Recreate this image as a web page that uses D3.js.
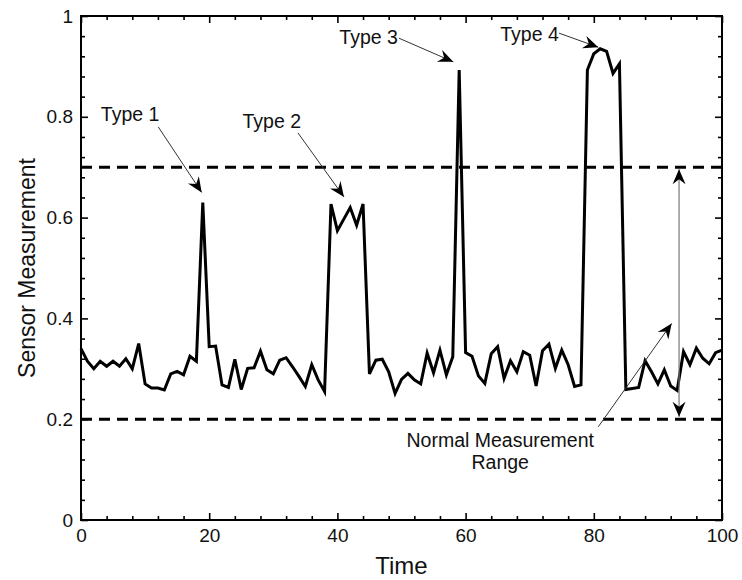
<!DOCTYPE html>
<html>
<head>
<meta charset="utf-8">
<script src="https://cdn.jsdelivr.net/npm/d3@7"></script>
<style>
  html, body { margin: 0; padding: 0; background: #fff; }
  svg { display: block; }
  text { font-family: "Liberation Sans", Arial, Helvetica, sans-serif; fill: #111; }
</style>
</head>
<body>
<svg id="chart" width="742" height="580"></svg>
<script>
// ---- data ----
const times = d3.range(0, 101);
const sensorValues = [
  0.340, 0.315, 0.300, 0.315, 0.305, 0.315, 0.305, 0.320, 0.300, 0.350,
  0.270, 0.262, 0.262, 0.258, 0.290, 0.295, 0.288, 0.325, 0.315, 0.630,
  0.344, 0.345, 0.268, 0.263, 0.319, 0.259, 0.301, 0.302, 0.335, 0.298,
  0.290, 0.317, 0.322, 0.304, 0.285, 0.265, 0.308, 0.278, 0.255, 0.627,
  0.574, 0.597, 0.620, 0.585, 0.627, 0.290, 0.317, 0.319, 0.294, 0.251,
  0.279, 0.291, 0.278, 0.270, 0.331, 0.292, 0.337, 0.288, 0.324, 0.893,
  0.332, 0.325, 0.286, 0.271, 0.330, 0.344, 0.281, 0.316, 0.294, 0.334,
  0.327, 0.266, 0.336, 0.349, 0.301, 0.337, 0.308, 0.265, 0.268, 0.893,
  0.925, 0.935, 0.930, 0.886, 0.905, 0.259, 0.261, 0.263, 0.316, 0.294,
  0.270, 0.298, 0.266, 0.257, 0.334, 0.308, 0.341, 0.321, 0.310, 0.332,
  0.337
];
const xTicks = [0, 20, 40, 60, 80, 100];
const yTicks = [0, 0.2, 0.4, 0.6, 0.8, 1];
const xTickLabels = ["0", "20", "40", "60", "80", "100"];
const yTickLabels = ["0", "0.2", "0.4", "0.6", "0.8", "1"];
const thresholds = [0.7, 0.2];
// annotation labels and arrows (data coordinates)
const typeLabels = ["Type 1", "Type 2", "Type 3", "Type 4"];
const typeLabelPos = [[3.1, 0.792], [25.2, 0.777], [40.3, 0.944], [65.4, 0.950]];
const typeArrowFrom = [[12.05, 0.780], [33.85, 0.768], [49.6, 0.956], [74.57, 0.966]];
const typeArrowTo = [[18.83, 0.650], [41.03, 0.641], [58.08, 0.909], [80.7, 0.938]];
const rangeLabelLines = ["Normal Measurement", "Range"];
const rangeLabelPos = [65.4, 0.145];
const rangeArrowFrom = [80.7, 0.185];
const rangeArrowTo = [92.15, 0.390];
const rangeSpanX = 93.3;
const rangeSpan = [0.696, 0.205];

// ---- layout ----
const W = 742, H = 580;
const margin = { left: 81, right: 20, top: 16, bottom: 60 };
const svg = d3.select("#chart");
const iw = W - margin.left - margin.right;
const ih = H - margin.top - margin.bottom;
const g = svg.append("g").attr("transform", `translate(${margin.left},${margin.top})`);

const x = d3.scaleLinear().domain([0, 100]).range([0, iw]);
const y = d3.scaleLinear().domain([0, 1]).range([ih, 0]);

// minor ticks
const xMinor = d3.range(0, 101, 4).filter(v => !xTicks.includes(v));
const yMinor = d3.range(0, 1.0001, 0.04).map(v => +v.toFixed(2)).filter(v => !yTicks.some(t => Math.abs(t - v) < 1e-6));

function styleAxis(sel) {
  sel.select(".domain").remove();
  sel.selectAll("line").attr("stroke", "#000").attr("stroke-width", 1.6);
  sel.selectAll("text").style("font-size", "19px").attr("fill", "#111");
}

// major ticks, inward
g.append("g").attr("transform", `translate(0,${ih})`)
  .call(d3.axisBottom(x).tickValues(xTicks).tickFormat((d, i) => xTickLabels[i]).tickSizeInner(-7).tickSizeOuter(0).tickPadding(9))
  .call(styleAxis);
g.append("g")
  .call(d3.axisLeft(y).tickValues(yTicks).tickFormat((d, i) => yTickLabels[i]).tickSizeInner(-7).tickSizeOuter(0).tickPadding(8))
  .call(styleAxis);
g.append("g")
  .call(d3.axisTop(x).tickValues(xTicks).tickFormat("").tickSizeInner(-7).tickSizeOuter(0))
  .call(styleAxis);
g.append("g").attr("transform", `translate(${iw},0)`)
  .call(d3.axisRight(y).tickValues(yTicks).tickFormat("").tickSizeInner(-7).tickSizeOuter(0))
  .call(styleAxis);
// minor ticks
g.append("g").attr("transform", `translate(0,${ih})`)
  .call(d3.axisBottom(x).tickValues(xMinor).tickFormat("").tickSizeInner(-4).tickSizeOuter(0)).call(styleAxis);
g.append("g")
  .call(d3.axisTop(x).tickValues(xMinor).tickFormat("").tickSizeInner(-4).tickSizeOuter(0)).call(styleAxis);
g.append("g")
  .call(d3.axisLeft(y).tickValues(yMinor).tickFormat("").tickSizeInner(-4).tickSizeOuter(0)).call(styleAxis);
g.append("g").attr("transform", `translate(${iw},0)`)
  .call(d3.axisRight(y).tickValues(yMinor).tickFormat("").tickSizeInner(-4).tickSizeOuter(0)).call(styleAxis);

// frame
g.append("rect").attr("x", 0).attr("y", 0).attr("width", iw).attr("height", ih)
  .attr("fill", "none").attr("stroke", "#000").attr("stroke-width", 2);

// threshold dashed lines
g.selectAll(".thr").data(thresholds).enter().append("line")
  .attr("x1", 0).attr("x2", iw)
  .attr("y1", d => y(d)).attr("y2", d => y(d))
  .attr("stroke", "#000").attr("stroke-width", 3).attr("stroke-dasharray", "11,7");

// data line
const line = d3.line().x((d, i) => x(times[i])).y(d => y(d));
g.append("path").datum(sensorValues)
  .attr("d", line).attr("fill", "none").attr("stroke", "#000")
  .attr("stroke-width", 3).attr("stroke-linejoin", "miter").attr("stroke-miterlimit", 4);

// arrow heads
const defs = svg.append("defs");
defs.append("marker").attr("id", "head").attr("viewBox", "-16 -7 18 14")
  .attr("refX", 0).attr("refY", 0).attr("markerWidth", 18).attr("markerHeight", 14)
  .attr("markerUnits", "userSpaceOnUse").attr("orient", "auto-start-reverse")
  .append("path").attr("d", "M0,0 L-15,-6.5 L-10,0 L-15,6.5 Z").attr("fill", "#000");

typeArrowFrom.forEach((f, i) => {
  const t = typeArrowTo[i];
  g.append("line")
    .attr("x1", x(f[0])).attr("y1", y(f[1])).attr("x2", x(t[0])).attr("y2", y(t[1]))
    .attr("stroke", "#333").attr("stroke-width", 1).attr("marker-end", "url(#head)");
  g.append("text").attr("x", x(typeLabelPos[i][0])).attr("y", y(typeLabelPos[i][1]))
    .style("font-size", "19.5px").text(typeLabels[i]);
});

g.append("line")
  .attr("x1", x(rangeArrowFrom[0])).attr("y1", y(rangeArrowFrom[1]))
  .attr("x2", x(rangeArrowTo[0])).attr("y2", y(rangeArrowTo[1]))
  .attr("stroke", "#333").attr("stroke-width", 1).attr("marker-end", "url(#head)");
g.append("line")
  .attr("x1", x(rangeSpanX)).attr("y1", y(rangeSpan[0]))
  .attr("x2", x(rangeSpanX)).attr("y2", y(rangeSpan[1]))
  .attr("stroke", "#777").attr("stroke-width", 1.2)
  .attr("marker-start", "url(#head)").attr("marker-end", "url(#head)");

rangeLabelLines.forEach((s, i) => {
  g.append("text").attr("x", x(rangeLabelPos[0])).attr("y", y(rangeLabelPos[1]) + i * 22)
    .attr("text-anchor", "middle").style("font-size", "19.5px").text(s);
});

// axis titles
svg.append("text").attr("x", margin.left + iw / 2).attr("y", 574)
  .attr("text-anchor", "middle").style("font-size", "24px").text("Time");
svg.append("text").attr("transform", `translate(35,${margin.top + ih / 2}) rotate(-90)`)
  .attr("text-anchor", "middle").style("font-size", "23px").text("Sensor Measurement");
</script>
</body>
</html>
